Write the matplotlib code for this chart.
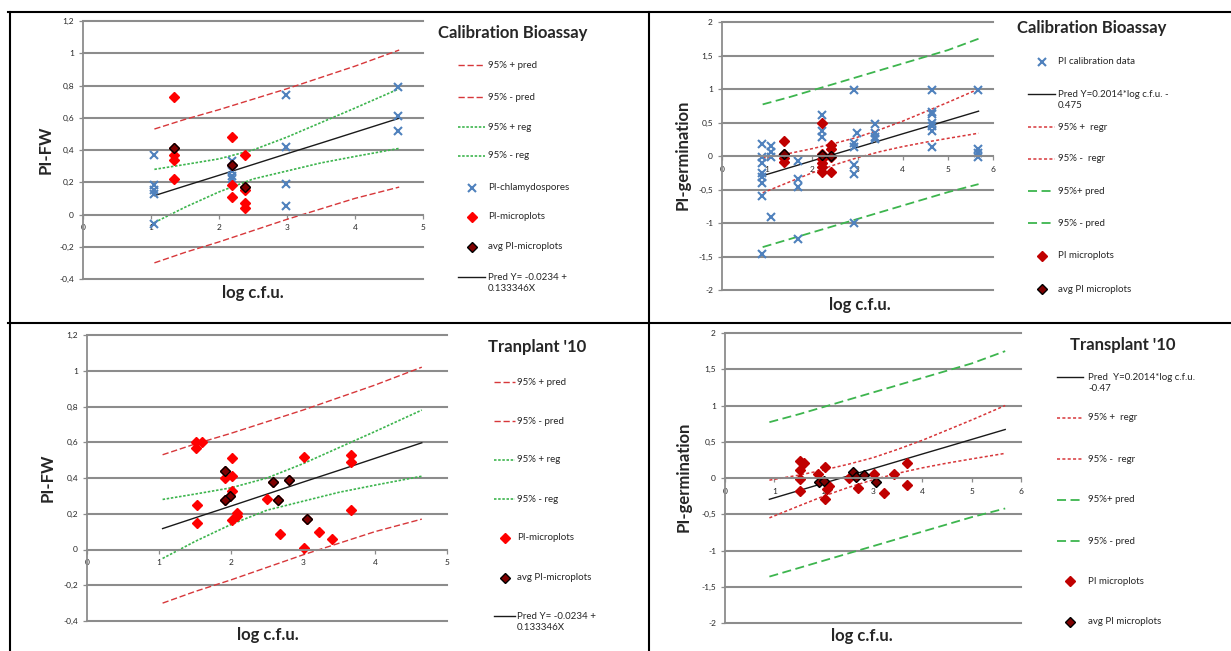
import matplotlib
matplotlib.use("Agg")
import matplotlib.pyplot as plt
from matplotlib.lines import Line2D

plt.rcParams["font.family"] = ["Lato", "DejaVu Sans"]

# ---- Calibration bioassay, PI-FW ----
fw_cal_chl_x = [1.05, 1.05, 1.05, 1.05, 1.05, 2.19, 2.19, 2.19, 2.19, 2.98, 2.98, 2.98, 2.98, 4.63, 4.63, 4.63]
fw_cal_chl_y = [0.37, 0.18, 0.15, 0.13, -0.06, 0.33, 0.27, 0.24, 0.22, 0.74, 0.42, 0.19, 0.05, 0.79, 0.61, 0.52]
fw_cal_micro_x = [1.34, 1.34, 1.34, 1.34, 1.34, 2.19, 2.19, 2.19, 2.19, 2.38, 2.38, 2.38, 2.38, 2.38]
fw_cal_micro_y = [0.73, 0.41, 0.37, 0.34, 0.22, 0.48, 0.31, 0.18, 0.11, 0.37, 0.17, 0.15, 0.07, 0.04]
fw_cal_avg_x = [1.34, 2.19, 2.38]
fw_cal_avg_y = [0.41, 0.31, 0.17]

# ---- Transplant '10, PI-FW ----
fw_tr_micro_x = [1.52, 1.52, 1.60, 1.53, 1.53, 1.91, 1.92, 2.01, 2.02, 2.01, 1.98, 1.91, 2.08, 2.09, 2.01,
                 2.50, 2.59, 2.65, 2.68, 2.81, 3.01, 3.02, 3.06, 3.22, 3.40, 3.67, 3.67, 3.67]
fw_tr_micro_y = [0.60, 0.57, 0.60, 0.25, 0.15, 0.44, 0.40, 0.51, 0.41, 0.33, 0.30, 0.275, 0.205, 0.19, 0.165,
                 0.285, 0.38, 0.275, 0.085, 0.39, 0.52, 0.01, 0.17, 0.10, 0.06, 0.53, 0.49, 0.22]
fw_tr_avg_x = [1.91, 1.98, 1.91, 2.59, 2.65, 2.81, 3.06]
fw_tr_avg_y = [0.44, 0.30, 0.275, 0.38, 0.275, 0.39, 0.17]

# regression lines for PI-FW
fw_line_x = [1.05, 1.5, 2.0, 2.5, 3.0, 3.5, 4.0, 4.65]
fw_pred = [0.117, 0.177, 0.243, 0.310, 0.377, 0.443, 0.510, 0.597]
fw_pred_up = [0.53, 0.59, 0.65, 0.715, 0.78, 0.85, 0.92, 1.02]
fw_pred_lo = [-0.30, -0.235, -0.17, -0.10, -0.03, 0.035, 0.10, 0.17]
fw_reg_up = [0.28, 0.31, 0.345, 0.40, 0.48, 0.57, 0.66, 0.78]
fw_reg_lo = [-0.05, 0.045, 0.14, 0.22, 0.27, 0.32, 0.36, 0.41]

# ---- Calibration bioassay, PI-germination ----
ge_cal_x = [0.89, 0.89, 0.89, 0.89, 0.89, 0.89, 0.89, 0.89,
            1.09, 1.09, 1.09, 1.09,
            1.68, 1.68, 1.68, 1.68,
            2.21, 2.21, 2.21,
            2.92, 2.92, 2.92, 2.92, 2.92, 2.92, 2.99,
            3.38, 3.38, 3.38, 3.38,
            4.66, 4.66, 4.66, 4.66, 4.66, 4.66, 4.66,
            5.67, 5.67, 5.67, 5.67]
ge_cal_y = [0.18, -0.01, -0.10, -0.25, -0.31, -0.41, -0.59, -1.46,
            0.15, 0.06, -0.01, -0.91,
            -0.07, -0.34, -0.47, -1.24,
            0.61, 0.37, 0.29,
            0.98, 0.19, 0.14, -0.14, -0.27, -1.00, 0.34,
            0.48, 0.34, 0.28, 0.25,
            0.98, 0.66, 0.62, 0.49, 0.45, 0.37, 0.14,
            0.98, 0.10, 0.04, -0.01]
ge_cal_micro_x = [1.37, 1.37, 1.37, 1.37, 2.21, 2.21, 2.21, 2.21, 2.21, 2.21, 2.41, 2.41, 2.41, 2.41]
ge_cal_micro_y = [0.23, 0.03, -0.03, -0.09, 0.50, 0.03, -0.05, -0.11, -0.16, -0.24, 0.16, 0.10, -0.01, -0.24]
ge_cal_avg_x = [1.37, 2.21, 2.41]
ge_cal_avg_y = [0.03, 0.01, 0.0]

# ---- Transplant '10, PI-germination ----
ge_tr_micro_x = [1.52, 1.61, 1.52, 1.52, 1.52, 1.89, 2.03, 2.10, 2.06, 2.03,
                 2.52, 2.69, 3.02, 3.23, 3.42, 3.69, 3.69]
ge_tr_micro_y = [0.235, 0.21, 0.11, -0.02, -0.18, 0.05, 0.15, -0.11, -0.15, -0.29,
                 0.0, -0.14, 0.05, -0.21, 0.05, 0.21, -0.10]
ge_tr_avg_x = [1.91, 2.00, 2.60, 2.65, 2.81, 3.06]
ge_tr_avg_y = [-0.05, -0.04, 0.08, 0.02, 0.04, -0.05]

# regression lines for PI-germination
ge_line_x = [0.9, 1.5, 2.0, 2.5, 3.0, 3.5, 4.0, 4.5, 5.0, 5.68]
ge_pred = [-0.294, -0.173, -0.072, 0.029, 0.129, 0.230, 0.331, 0.431, 0.532, 0.669]
ge_regr_up = [-0.03, 0.04, 0.11, 0.19, 0.28, 0.395, 0.52, 0.66, 0.80, 1.0]
ge_regr_lo = [-0.55, -0.385, -0.25, -0.13, -0.025, 0.065, 0.14, 0.205, 0.263, 0.34]
ge_pred_up = [0.77, 0.88, 0.98, 1.08, 1.18, 1.28, 1.38, 1.48, 1.58, 1.75]
ge_pred_lo = [-1.36, -1.24, -1.14, -1.04, -0.94, -0.84, -0.74, -0.64, -0.54, -0.42]

fw_yticks = [-0.4, -0.2, 0, 0.2, 0.4, 0.6, 0.8, 1, 1.2]
fw_ylabels = ["-0,4", "-0,2", "0", "0,2", "0,4", "0,6", "0,8", "1", "1,2"]
ge_yticks = [-2, -1.5, -1, -0.5, 0, 0.5, 1, 1.5, 2]
ge_ylabels = ["-2", "-1,5", "-1", "-0,5", "0", "0,5", "1", "1,5", "2"]

W, H = 1231, 651
fig = plt.figure(figsize=(W / 100, H / 100), dpi=100)

BLUE = "#4F81BD"
RED_PT = "#FF0000"
DARK_RED_PT = "#C00000"
AVG = "#7F0000"
RED_LN = "#D7373A"
GREEN_LN = "#3DB54E"
GRID = "#8C8C8C"
TXT = "#262626"

styles = {
    "pred_fw": dict(color=RED_LN, lw=1.0, ls=(0, (4.5, 2))),
    "reg_fw": dict(color=GREEN_LN, lw=1.2, ls=(0, (1.5, 1))),
    "regr_ge": dict(color=RED_LN, lw=1.1, ls=(0, (2, 1.5))),
    "pred_ge": dict(color=GREEN_LN, lw=1.3, ls=(0, (5, 2.5))),
    "fit": dict(color="#1a1a1a", lw=1.0, ls="-"),
    "chl": dict(ls="none", marker="x", ms=6, mew=1.5, color=BLUE),
    "micro_fw": dict(ls="none", marker="D", ms=5, color=RED_PT, mec=RED_PT),
    "micro_ge": dict(ls="none", marker="D", ms=5, color=DARK_RED_PT, mec=DARK_RED_PT),
    "avg": dict(ls="none", marker="D", ms=5, color=AVG, mec="black", mew=1.0),
}


def px(x, y):
    return x / W, 1 - y / H


def axes_px(x0, y0, x1, y1):
    return fig.add_axes([x0 / W, 1 - y1 / H, (x1 - x0) / W, (y1 - y0) / H])


def style_axes(ax, xmax, yticks, ylabels):
    ax.set_xlim(0, xmax)
    ax.set_ylim(yticks[0], yticks[-1])
    ax.set_yticks(yticks)
    ax.set_yticklabels(ylabels)
    ax.set_xticks(range(xmax + 1))
    ax.set_xticklabels([str(i) for i in range(xmax + 1)])
    for s in ["top", "right"]:
        ax.spines[s].set_visible(False)
    ax.spines["bottom"].set_position(("data", 0))
    ax.spines["bottom"].set_color(GRID)
    ax.spines["left"].set_color(GRID)
    ax.spines["bottom"].set_linewidth(1.3)
    ax.spines["left"].set_linewidth(1.3)
    ax.tick_params(axis="both", labelsize=6, colors=GRID, labelcolor=TXT, length=3, width=0.9)
    ax.tick_params(axis="x", pad=4)
    ax.yaxis.grid(True, color=GRID, lw=1.5)
    for gl in ax.get_ygridlines():
        gl.set_clip_on(False)
    ax.set_axisbelow(True)
    ax.patch.set_alpha(0)


def legend_px(entries, x_handle, x_text, ys, fontsize=7):
    # entries: (label, style key, kind)
    for (label, key, kind), y in zip(entries, ys):
        st = dict(styles[key])
        hx0, hx1 = x_handle
        if kind == "line":
            (ax0, ay), (ax1, _) = px(hx0, y), px(hx1, y)
            fig.add_artist(Line2D([ax0, ax1], [ay, ay], transform=fig.transFigure, **st))
        else:
            cx, cy = px((hx0 + hx1) / 2, y)
            fig.add_artist(Line2D([cx], [cy], transform=fig.transFigure, **st))
        ty = y + (6 if "\n" in label else 0)
        tx, tyy = px(x_text, ty)
        fig.text(tx, tyy, label, fontsize=fontsize, color=TXT, va="center", ha="left", linespacing=1.3)


def band_lines(ax, xs, series):
    for ys, key in series:
        ax.plot(xs, ys, **styles[key])


# ---- panel A: Calibration bioassay PI-FW ----
ax1 = axes_px(83, 21, 423, 279)
style_axes(ax1, 5, fw_yticks, fw_ylabels)
band_lines(ax1, fw_line_x, [(fw_pred_up, "pred_fw"), (fw_pred_lo, "pred_fw"),
                            (fw_reg_up, "reg_fw"), (fw_reg_lo, "reg_fw"), (fw_pred, "fit")])
ax1.plot(fw_cal_chl_x, fw_cal_chl_y, **styles["chl"])
ax1.plot(fw_cal_micro_x, fw_cal_micro_y, **styles["micro_fw"])
ax1.plot(fw_cal_avg_x, fw_cal_avg_y, **styles["avg"])

# ---- panel B: Calibration bioassay PI-germination ----
ax2 = axes_px(722, 22, 993, 290)
style_axes(ax2, 6, ge_yticks, ge_ylabels)
band_lines(ax2, ge_line_x, [(ge_pred_up, "pred_ge"), (ge_pred_lo, "pred_ge"),
                            (ge_regr_up, "regr_ge"), (ge_regr_lo, "regr_ge"), (ge_pred, "fit")])
ax2.plot(ge_cal_x, ge_cal_y, **styles["chl"])
ax2.plot(ge_cal_micro_x, ge_cal_micro_y, **styles["micro_ge"])
ax2.plot(ge_cal_avg_x, ge_cal_avg_y, **styles["avg"])

# ---- panel C: Transplant '10 PI-FW ----
ax3 = axes_px(87, 335, 447, 621)
style_axes(ax3, 5, fw_yticks, fw_ylabels)
band_lines(ax3, fw_line_x, [(fw_pred_up, "pred_fw"), (fw_pred_lo, "pred_fw"),
                            (fw_reg_up, "reg_fw"), (fw_reg_lo, "reg_fw"), (fw_pred, "fit")])
ax3.plot(fw_tr_micro_x, fw_tr_micro_y, **styles["micro_fw"])
ax3.plot(fw_tr_avg_x, fw_tr_avg_y, **styles["avg"])

# ---- panel D: Transplant '10 PI-germination ----
ax4 = axes_px(725, 333, 1021, 623)
style_axes(ax4, 6, ge_yticks, ge_ylabels)
band_lines(ax4, ge_line_x, [(ge_pred_up, "pred_ge"), (ge_pred_lo, "pred_ge"),
                            (ge_regr_up, "regr_ge"), (ge_regr_lo, "regr_ge"), (ge_pred, "fit")])
ax4.plot(ge_tr_micro_x, ge_tr_micro_y, **styles["micro_ge"])
ax4.plot(ge_tr_avg_x, ge_tr_avg_y, **styles["avg"])

# axis titles
for (x, y, s) in [(253, 293, "log c.f.u."), (860, 305, "log c.f.u."),
                  (268, 635, "log c.f.u."), (862, 636, "log c.f.u.")]:
    fig.text(*px(x, y), s, fontsize=12, fontweight="bold", color=TXT, ha="center", va="center")
for (x, y, s) in [(46, 150, "PI-FW"), (683, 155, "PI-germination"),
                  (48, 478, "PI-FW"), (684, 477, "PI-germination")]:
    fig.text(*px(x, y), s, fontsize=12, fontweight="bold", color=TXT, ha="center", va="center", rotation=90)

# chart titles
fig.text(*px(438, 33), "Calibration Bioassay", fontsize=12, fontweight="bold", color=TXT, va="center")
fig.text(*px(1017, 28), "Calibration Bioassay", fontsize=12, fontweight="bold", color=TXT, va="center")
fig.text(*px(488, 347), "Tranplant '10", fontsize=12, fontweight="bold", color=TXT, va="center")
fig.text(*px(1070, 345), "Transplant '10", fontsize=12, fontweight="bold", color=TXT, va="center")

# legends
legend_px([("95% + pred", "pred_fw", "line"), ("95% - pred", "pred_fw", "line"),
           ("95% + reg", "reg_fw", "line"), ("95% - reg", "reg_fw", "line"),
           ("PI-chlamydospores", "chl", "marker"), ("PI-microplots", "micro_fw", "marker"),
           ("avg PI-microplots", "avg", "marker"), ("Pred Y= -0.0234 +\n0.133346X", "fit", "line")],
          (458, 485), 488, [65, 97, 127, 156, 188, 217, 247, 277])

legend_px([("PI calibration data", "chl", "marker"), ("Pred Y=0.2014*log c.f.u. -\n0.475", "fit", "line"),
           ("95% +  regr", "regr_ge", "line"), ("95% -  regr", "regr_ge", "line"),
           ("95%+ pred", "pred_ge", "line"), ("95% - pred", "pred_ge", "line"),
           ("PI microplots", "micro_ge", "marker"), ("avg PI microplots", "avg", "marker")],
          (1028, 1055), 1058, [62, 94, 127, 159, 191, 223, 256, 289])

legend_px([("95% + pred", "pred_fw", "line"), ("95% - pred", "pred_fw", "line"),
           ("95% + reg", "reg_fw", "line"), ("95% - reg", "reg_fw", "line"),
           ("PI-microplots", "micro_fw", "marker"), ("avg PI-microplots", "avg", "marker"),
           ("Pred Y= -0.0234 +\n0.133346X", "fit", "line")],
          (494, 515), 517, [382, 421, 460, 499, 538, 578, 616])

legend_px([("Pred  Y=0.2014*log c.f.u.\n-0.47", "fit", "line"),
           ("95% +  regr", "regr_ge", "line"), ("95% -  regr", "regr_ge", "line"),
           ("95%+ pred", "pred_ge", "line"), ("95% - pred", "pred_ge", "line"),
           ("PI microplots", "micro_ge", "marker"), ("avg PI microplots", "avg", "marker")],
          (1057, 1083), 1088, [377, 418, 459, 500, 541, 581, 622])

# table borders
bw = 1.5
for y in [12, 323]:
    fig.add_artist(Line2D([px(8, y)[0], 1], [px(8, y)[1]] * 2, transform=fig.transFigure, color="black", lw=bw))
for x in [10, 649]:
    fig.add_artist(Line2D([px(x, 12)[0]] * 2, [px(x, 12)[1], 0], transform=fig.transFigure, color="black", lw=bw))

fig.savefig("out.png", dpi=100)
